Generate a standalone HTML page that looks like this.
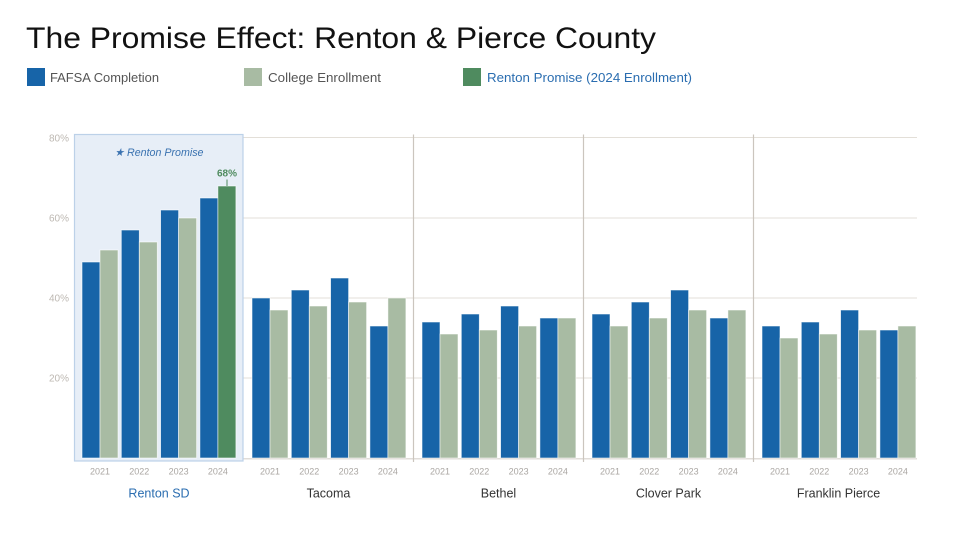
<!DOCTYPE html>
<html>
<head>
<meta charset="utf-8">
<style>
  html,body{margin:0;padding:0;background:#ffffff;}
  body{width:960px;height:540px;overflow:hidden;}
  svg{display:block;}
  text{font-family:"Liberation Sans", sans-serif;}
</style>
</head>
<body>
<svg width="960" height="540" viewBox="0 0 960 540" xmlns="http://www.w3.org/2000/svg">
  <!-- Title -->
  <text x="26" y="48" font-size="30" fill="#111" textLength="630" lengthAdjust="spacingAndGlyphs">The Promise Effect: Renton &amp; Pierce County</text>

  <!-- Legend -->
  <rect x="27" y="68" width="18" height="18" fill="#1764a8"/>
  <text x="50" y="82" font-size="13" fill="#555" textLength="109" lengthAdjust="spacingAndGlyphs">FAFSA Completion</text>
  <rect x="244" y="68" width="18" height="18" fill="#a8bba3"/>
  <text x="268" y="82" font-size="13" fill="#555" textLength="113" lengthAdjust="spacingAndGlyphs">College Enrollment</text>
  <rect x="463" y="68" width="18" height="18" fill="#4f8b5f"/>
  <text x="487" y="82" font-size="13" fill="#2a6db0" textLength="205" lengthAdjust="spacingAndGlyphs">Renton Promise (2024 Enrollment)</text>

  <!-- Y axis labels -->
  <g font-size="10" fill="#bdb8b2" text-anchor="end">
    <text x="69" y="141.5">80%</text>
    <text x="69" y="221.5">60%</text>
    <text x="69" y="301.5">40%</text>
    <text x="69" y="381.5">20%</text>
  </g>

  <!-- Gridlines -->
  <g stroke="#e3dfd8" stroke-width="1">
    <line x1="243" y1="137.5" x2="917" y2="137.5"/>
    <line x1="243" y1="218" x2="917" y2="218"/>
    <line x1="243" y1="298" x2="917" y2="298"/>
    <line x1="243" y1="378" x2="917" y2="378"/>
  </g>
  <!-- Baseline -->
  <line x1="74" y1="458.8" x2="917" y2="458.8" stroke="#d6d1cb" stroke-width="1.2"/>

  <!-- Separators -->
  <g stroke="#cbc5be" stroke-width="1.2">
    <line x1="413.5" y1="134.5" x2="413.5" y2="462"/>
    <line x1="583.5" y1="134.5" x2="583.5" y2="462"/>
    <line x1="753.5" y1="134.5" x2="753.5" y2="462"/>
  </g>

  <!-- Renton highlight box -->
  <rect x="74.5" y="134.5" width="168.5" height="326.5" fill="#e7eef7" stroke="#bcd1e8" stroke-width="1.2"/>
  <text x="159" y="156" font-size="11" font-style="italic" fill="#3a72b0" text-anchor="middle" textLength="89" lengthAdjust="spacingAndGlyphs">★ Renton Promise</text>

  <!-- Bars -->
  <g stroke="#ffffff" stroke-opacity="0.7" stroke-width="0.8">
    <!-- Renton -->
    <rect x="82" y="262" width="18" height="196" fill="#1764a8"/>
    <rect x="100" y="250" width="18" height="208" fill="#a8bba3"/>
    <rect x="121.3" y="230" width="18" height="228" fill="#1764a8"/>
    <rect x="139.3" y="242" width="18" height="216" fill="#a8bba3"/>
    <rect x="160.6" y="210" width="18" height="248" fill="#1764a8"/>
    <rect x="178.6" y="218" width="18" height="240" fill="#a8bba3"/>
    <rect x="199.9" y="198" width="18" height="260" fill="#1764a8"/>
    <rect x="217.9" y="186" width="18" height="272" fill="#4f8b5f"/>
    <!-- Tacoma -->
    <rect x="252" y="298" width="18" height="160" fill="#1764a8"/>
    <rect x="270" y="310" width="18" height="148" fill="#a8bba3"/>
    <rect x="291.3" y="290" width="18" height="168" fill="#1764a8"/>
    <rect x="309.3" y="306" width="18" height="152" fill="#a8bba3"/>
    <rect x="330.6" y="278" width="18" height="180" fill="#1764a8"/>
    <rect x="348.6" y="302" width="18" height="156" fill="#a8bba3"/>
    <rect x="369.9" y="326" width="18" height="132" fill="#1764a8"/>
    <rect x="387.9" y="298" width="18" height="160" fill="#a8bba3"/>
    <!-- Bethel -->
    <rect x="422" y="322" width="18" height="136" fill="#1764a8"/>
    <rect x="440" y="334" width="18" height="124" fill="#a8bba3"/>
    <rect x="461.3" y="314" width="18" height="144" fill="#1764a8"/>
    <rect x="479.3" y="330" width="18" height="128" fill="#a8bba3"/>
    <rect x="500.6" y="306" width="18" height="152" fill="#1764a8"/>
    <rect x="518.6" y="326" width="18" height="132" fill="#a8bba3"/>
    <rect x="539.9" y="318" width="18" height="140" fill="#1764a8"/>
    <rect x="557.9" y="318" width="18" height="140" fill="#a8bba3"/>
    <!-- Clover Park -->
    <rect x="592" y="314" width="18" height="144" fill="#1764a8"/>
    <rect x="610" y="326" width="18" height="132" fill="#a8bba3"/>
    <rect x="631.3" y="302" width="18" height="156" fill="#1764a8"/>
    <rect x="649.3" y="318" width="18" height="140" fill="#a8bba3"/>
    <rect x="670.6" y="290" width="18" height="168" fill="#1764a8"/>
    <rect x="688.6" y="310" width="18" height="148" fill="#a8bba3"/>
    <rect x="709.9" y="318" width="18" height="140" fill="#1764a8"/>
    <rect x="727.9" y="310" width="18" height="148" fill="#a8bba3"/>
    <!-- Franklin Pierce -->
    <rect x="762" y="326" width="18" height="132" fill="#1764a8"/>
    <rect x="780" y="338" width="18" height="120" fill="#a8bba3"/>
    <rect x="801.3" y="322" width="18" height="136" fill="#1764a8"/>
    <rect x="819.3" y="334" width="18" height="124" fill="#a8bba3"/>
    <rect x="840.6" y="310" width="18" height="148" fill="#1764a8"/>
    <rect x="858.6" y="330" width="18" height="128" fill="#a8bba3"/>
    <rect x="879.9" y="330" width="18" height="128" fill="#1764a8"/>
    <rect x="897.9" y="326" width="18" height="132" fill="#a8bba3"/>
  </g>

  <!-- 68% annotation -->
  <line x1="227" y1="179.5" x2="227" y2="186" stroke="#4f8b5f" stroke-width="1"/>
  <text x="227" y="176.5" font-size="10" font-weight="bold" fill="#4f8b5f" text-anchor="middle">68%</text>

  <!-- Year labels -->
  <g font-size="9" fill="#aaa6a2" text-anchor="middle">
    <text x="100" y="474.5">2021</text>
    <text x="139.3" y="474.5">2022</text>
    <text x="178.6" y="474.5">2023</text>
    <text x="217.9" y="474.5">2024</text>
    <text x="270" y="474.5">2021</text>
    <text x="309.3" y="474.5">2022</text>
    <text x="348.6" y="474.5">2023</text>
    <text x="387.9" y="474.5">2024</text>
    <text x="440" y="474.5">2021</text>
    <text x="479.3" y="474.5">2022</text>
    <text x="518.6" y="474.5">2023</text>
    <text x="557.9" y="474.5">2024</text>
    <text x="610" y="474.5">2021</text>
    <text x="649.3" y="474.5">2022</text>
    <text x="688.6" y="474.5">2023</text>
    <text x="727.9" y="474.5">2024</text>
    <text x="780" y="474.5">2021</text>
    <text x="819.3" y="474.5">2022</text>
    <text x="858.6" y="474.5">2023</text>
    <text x="897.9" y="474.5">2024</text>
  </g>

  <!-- District labels -->
  <g font-size="12.5" text-anchor="middle">
    <text x="159" y="497.5" fill="#2a6db0">Renton SD</text>
    <text x="328.5" y="497.5" fill="#333">Tacoma</text>
    <text x="498.5" y="497.5" fill="#333">Bethel</text>
    <text x="668.5" y="497.5" fill="#333">Clover Park</text>
    <text x="838.5" y="497.5" fill="#333">Franklin Pierce</text>
  </g>
</svg>
</body>
</html>
